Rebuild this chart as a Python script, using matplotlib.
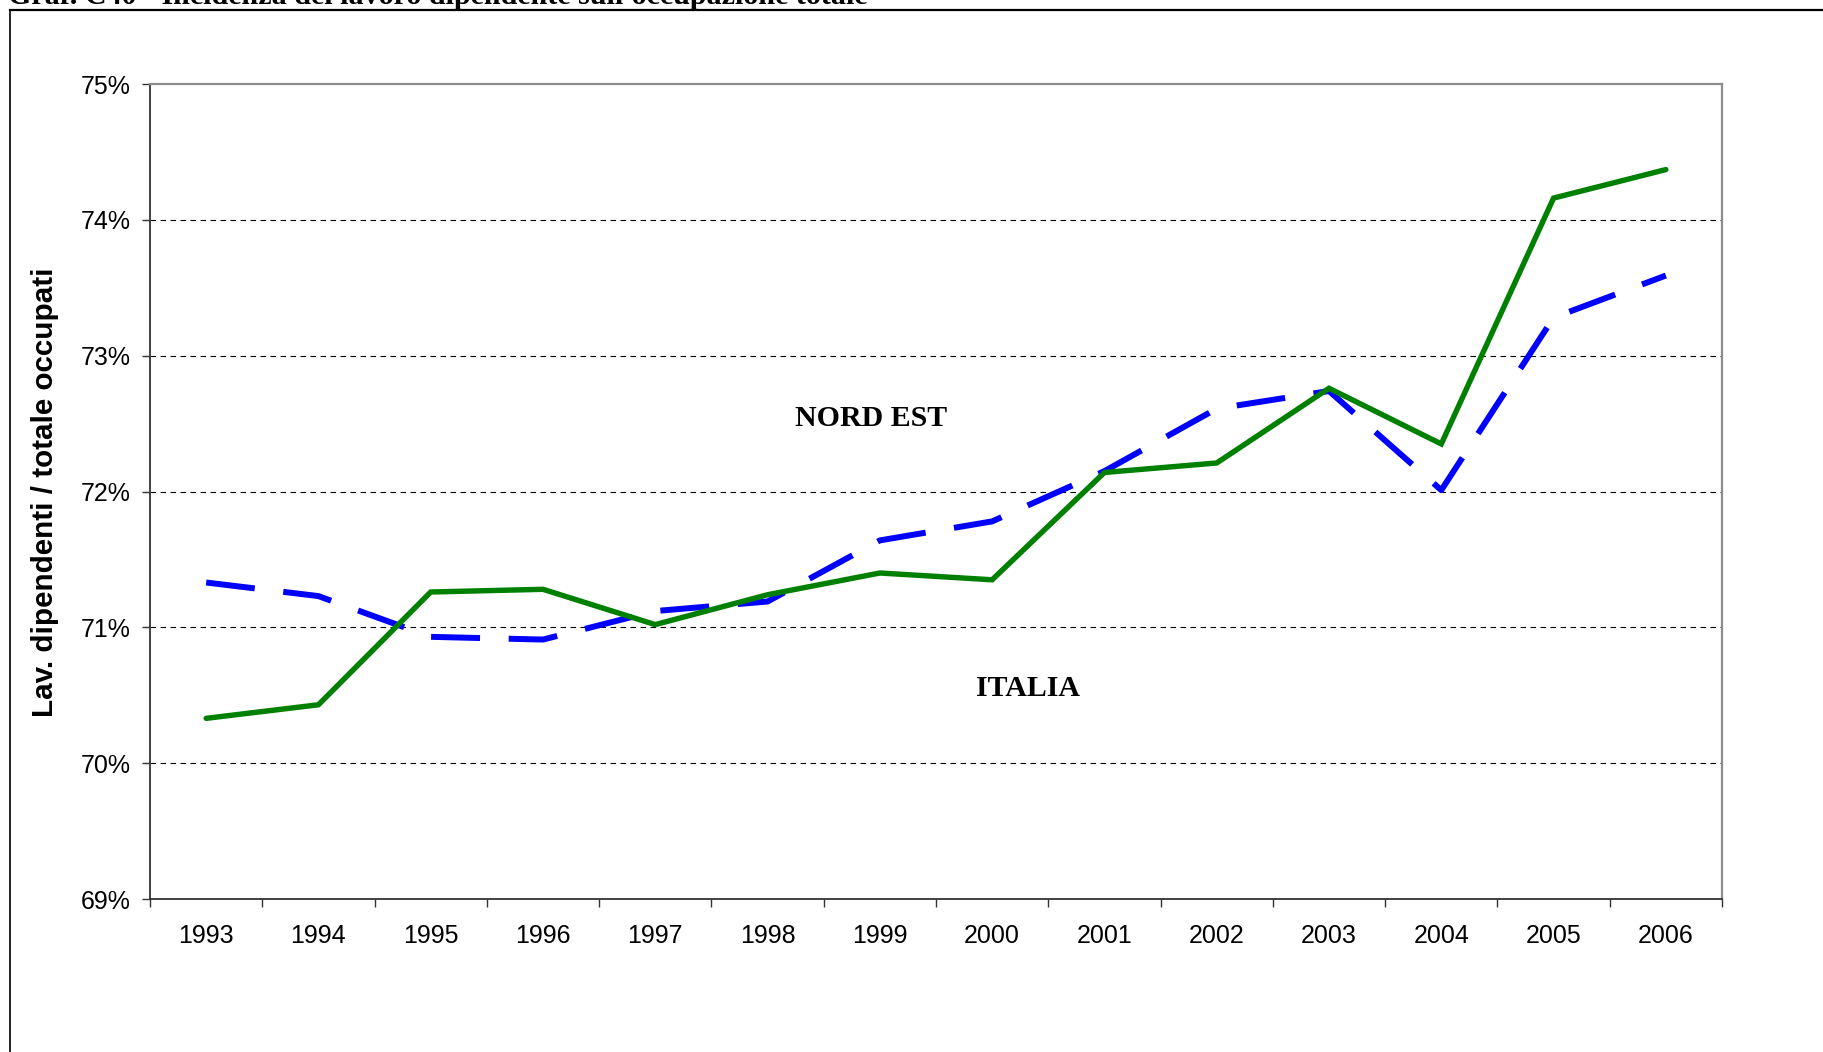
import numpy as np
import matplotlib
matplotlib.use('Agg')
import matplotlib.pyplot as plt
from matplotlib.lines import Line2D

# data (percent)
years = ['1993', '1994', '1995', '1996', '1997', '1998', '1999',
         '2000', '2001', '2002', '2003', '2004', '2005', '2006']
green_vals = [70.33, 70.43, 71.26, 71.28, 71.02, 71.24, 71.40,
              71.35, 72.14, 72.21, 72.76, 72.35, 74.16, 74.37]
blue_vals = [71.33, 71.23, 70.93, 70.91, 71.12, 71.19, 71.64,
             71.78, 72.15, 72.61, 72.74, 72.01, 73.28, 73.59]
ytick_vals = [69, 70, 71, 72, 73, 74, 75]

title = "Graf. C40 - Incidenza del lavoro dipendente sull'occupazione totale"
ylabel = 'Lav. dipendenti / totale occupati'

W, H = 1824, 1052
fig = plt.figure(figsize=(W / 100, H / 100), dpi=100)
fig.patch.set_facecolor('white')

#plot area in pixels
left, right, top, bottom = 150, 1722, 84, 899
ax = fig.add_axes([left / W, 1 - bottom / H, (right - left) / W, (bottom - top) / H])

x = np.arange(len(years))

ax.plot(x, blue_vals, color='#0000FF', lw=4.3, dashes=(8.2, 4.8),
        dash_capstyle='butt', zorder=3)
ax.plot(x, green_vals, color='#008000', lw=3.9, solid_capstyle='round',
        solid_joinstyle='miter', zorder=4)

ax.set_xlim(-0.5, len(years) - 0.5)
ax.set_ylim(69, 75)

# x axis: labels at category centres, tick marks at boundaries
ax.set_xticks(x)
ax.set_xticklabels(years, fontsize=18, family='Liberation Sans')
ax.set_xticks(np.arange(len(years) + 1) - 0.5, minor=True)
ax.tick_params(axis='x', which='major', length=0, pad=18)
ax.tick_params(axis='x', which='minor', length=6, width=1, color='#333333', direction='out')

ax.set_yticks(ytick_vals)
ax.set_yticklabels(['%d%%' % v for v in ytick_vals], fontsize=18, family='Liberation Sans')
ax.tick_params(axis='y', length=6, width=1, color='#333333', pad=8)

ax.yaxis.grid(True, color='black', linestyle=(0, (5, 4)), linewidth=0.8)
gl = ax.get_ygridlines()
gl[0].set_visible(False)
gl[-1].set_visible(False)
ax.set_axisbelow(True)

for s in ['left', 'bottom']:
    ax.spines[s].set_color('#333333')
    ax.spines[s].set_linewidth(1.3)
for s in ['top', 'right']:
    ax.spines[s].set_color('#8c8c8c')
    ax.spines[s].set_linewidth(1.6)

# series labels
ax.text((871 - left) / (right - left), 1 - (418 - top) / (bottom - top), 'NORD EST',
        transform=ax.transAxes, ha='center', va='center', fontsize=21.5,
        fontweight='bold', family='Liberation Serif')
ax.text((1028 - left) / (right - left), 1 - (688 - top) / (bottom - top), 'ITALIA',
        transform=ax.transAxes, ha='center', va='center', fontsize=21.5,
        fontweight='bold', family='Liberation Serif')

fig.text(45 / W, 1 - 492 / H, ylabel, rotation=90, ha='center', va='center',
         fontsize=21.3, fontweight='bold', family='Liberation Sans')

# title cut off at the top of the page
fig.text(8 / W, 1 - 4 / H, title, ha='left', va='baseline', fontsize=21.6,
         fontweight='bold', family='Liberation Serif')

# frame of the page
fig.add_artist(Line2D([10 / W, 1.01], [1 - 9.5 / H, 1 - 9.5 / H], transform=fig.transFigure,
                      color='black', lw=1.6))
fig.add_artist(Line2D([10 / W, 10 / W], [1 - 9.5 / H, -0.01], transform=fig.transFigure,
                      color='black', lw=1.2))

plt.savefig('out.png', dpi=100)
